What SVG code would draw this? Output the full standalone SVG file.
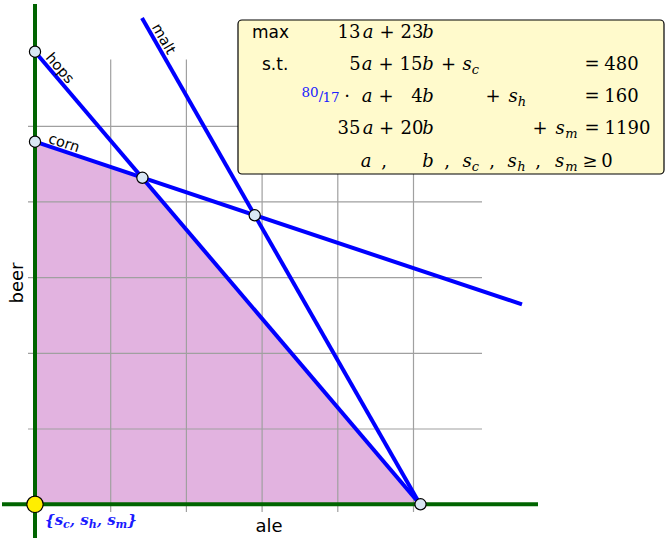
<svg xmlns="http://www.w3.org/2000/svg" width="665" height="538" viewBox="0 0 665 538">
<style>
.grid{stroke:#a0a0a0;stroke-width:1.2;fill:none}
.axis{stroke:#006400;stroke-width:4;fill:none}
.con{stroke:#0000ff;stroke-width:4;fill:none;stroke-linecap:butt}
.pt{fill:#d9e7f4;stroke:#000;stroke-width:1.2}
.lbl{font-family:"DejaVu Sans",sans-serif;font-size:14.5px;fill:#000}
.ax{font-family:"DejaVu Sans",sans-serif;font-size:18px;fill:#000}
.kw{font-family:"DejaVu Sans",sans-serif;font-size:17px;fill:#000}
.m{font-family:"DejaVu Serif",serif;font-size:18px;fill:#000;text-anchor:middle}
.i{font-style:italic}
.sb{font-size:13px}
.frac{font-family:"DejaVu Serif",serif;font-size:13.5px;fill:#2020ff;text-anchor:middle}
.set{font-family:"DejaVu Serif",serif;font-size:15px;font-weight:bold;font-style:italic;fill:#1a1aff}
</style>
<g id="feasible">
<polygon points="35,504.3 35,141.7 142.4,177.8 420,504.3" fill="#e2b3e0"/>
</g>
<g id="grid">
<path class="grid" d="M110.7,59.5V512M186.4,59.5V512M262.1,59.5V512M337.8,59.5V512M413.5,59.5V512M28,429H482M28,353.3H482M28,277.6H482M28,201.9H482M28,126.3H482"/>
</g>
<g id="axes">
<line class="axis" x1="35" y1="4" x2="35" y2="538"/>
<line class="axis" x1="2" y1="504.3" x2="538" y2="504.3"/>
</g>
<g id="connectors">
<line id="hops-line" class="con" x1="35" y1="51.7" x2="420" y2="504.3"/>
<line id="corn-line" class="con" x1="35" y1="141.7" x2="522" y2="304.4"/>
<line id="malt-line" class="con" x1="142" y1="18" x2="420" y2="504.3"/>
</g>
<g id="line-labels">
<text class="lbl" transform="translate(45,58) rotate(49.6)">hops</text>
<text class="lbl" transform="translate(47.5,142.5) rotate(18.4)">corn</text>
<text class="lbl" transform="translate(151.5,27) rotate(60.3)">malt</text>
</g>
<g id="vertices">
<circle id="v-hops" class="pt" cx="35" cy="51.7" r="5.6"/>
<circle id="v-corn" class="pt" cx="35" cy="141.7" r="5.6"/>
<circle id="v-ch" class="pt" cx="142.4" cy="177.8" r="5.6"/>
<circle id="v-cm" class="pt" cx="254.7" cy="215.3" r="5.6"/>
<circle id="v-a" class="pt" cx="420.5" cy="504.3" r="5.6"/>
</g>
<g id="origin">
<circle cx="35" cy="504.3" r="8.2" fill="#ffee00" stroke="#000" stroke-width="1.2"/>
<text class="set" x="45" y="525">{s<tspan dy="3" font-size="11px">c</tspan><tspan dy="-3">, s</tspan><tspan dy="3" font-size="11px">h</tspan><tspan dy="-3">, s</tspan><tspan dy="3" font-size="11px">m</tspan><tspan dy="-3">}</tspan></text>
</g>
<g id="axis-labels">
<text class="ax" x="269" y="532" text-anchor="middle">ale</text>
<text class="ax" transform="translate(23,283) rotate(-90)" text-anchor="middle">beer</text>
</g>
<g id="lp-box">
<rect x="238" y="20" width="426" height="154" rx="4" ry="4" fill="#fffacc" stroke="#000" stroke-width="1.2"/>
<text class="kw" x="252" y="38">max</text>
<text class="kw" x="262" y="70">s.t.</text>
<g id="row1">
<text class="m" x="349" y="38">13</text><text class="m i" x="368" y="38">a</text><text class="m" x="387" y="38">+</text><text class="m" x="412" y="38">23</text><text class="m i" x="428" y="38">b</text>
</g>
<g id="row2">
<text class="m" x="355" y="70">5</text><text class="m i" x="367" y="70">a</text><text class="m" x="386" y="70">+</text><text class="m" x="411" y="70">15</text><text class="m i" x="428" y="70">b</text><text class="m" x="448.5" y="70">+</text><text class="m i" x="467" y="70">s</text><text class="m i sb" x="475.5" y="74">c</text><text class="m" x="592" y="70">=</text><text class="m" x="621.5" y="70">480</text>
</g>
<g id="row3">
<text class="frac" x="310" y="97">80</text><text class="frac" x="321" y="101">/</text><text class="frac" x="331" y="102">17</text><text class="m" x="347" y="102">·</text><text class="m i" x="367" y="102">a</text><text class="m" x="386" y="102">+</text><text class="m" x="417" y="102">4</text><text class="m i" x="428" y="102">b</text><text class="m" x="493" y="102">+</text><text class="m i" x="513" y="102">s</text><text class="m i sb" x="522" y="106">h</text><text class="m" x="592" y="102">=</text><text class="m" x="621.5" y="102">160</text>
</g>
<g id="row4">
<text class="m" x="349" y="134">35</text><text class="m i" x="368" y="134">a</text><text class="m" x="386.5" y="134">+</text><text class="m" x="412" y="134">20</text><text class="m i" x="428" y="134">b</text><text class="m" x="540" y="134">+</text><text class="m i" x="560" y="134">s</text><text class="m i sb" x="571.5" y="138">m</text><text class="m" x="592" y="134">=</text><text class="m" x="627.5" y="134">1190</text>
</g>
<g id="row5">
<text class="m i" x="366" y="167">a</text><text class="m" x="384" y="167">,</text><text class="m i" x="428" y="167">b</text><text class="m" x="447" y="167">,</text><text class="m i" x="467" y="167">s</text><text class="m i sb" x="475.5" y="171">c</text><text class="m" x="492" y="167">,</text><text class="m i" x="512" y="167">s</text><text class="m i sb" x="521.5" y="171">h</text><text class="m" x="538" y="167">,</text><text class="m i" x="559.5" y="167">s</text><text class="m i sb" x="571.5" y="171">m</text><text class="m" x="590" y="167">≥</text><text class="m" x="607" y="167">0</text>
</g>
</g>
</svg>
